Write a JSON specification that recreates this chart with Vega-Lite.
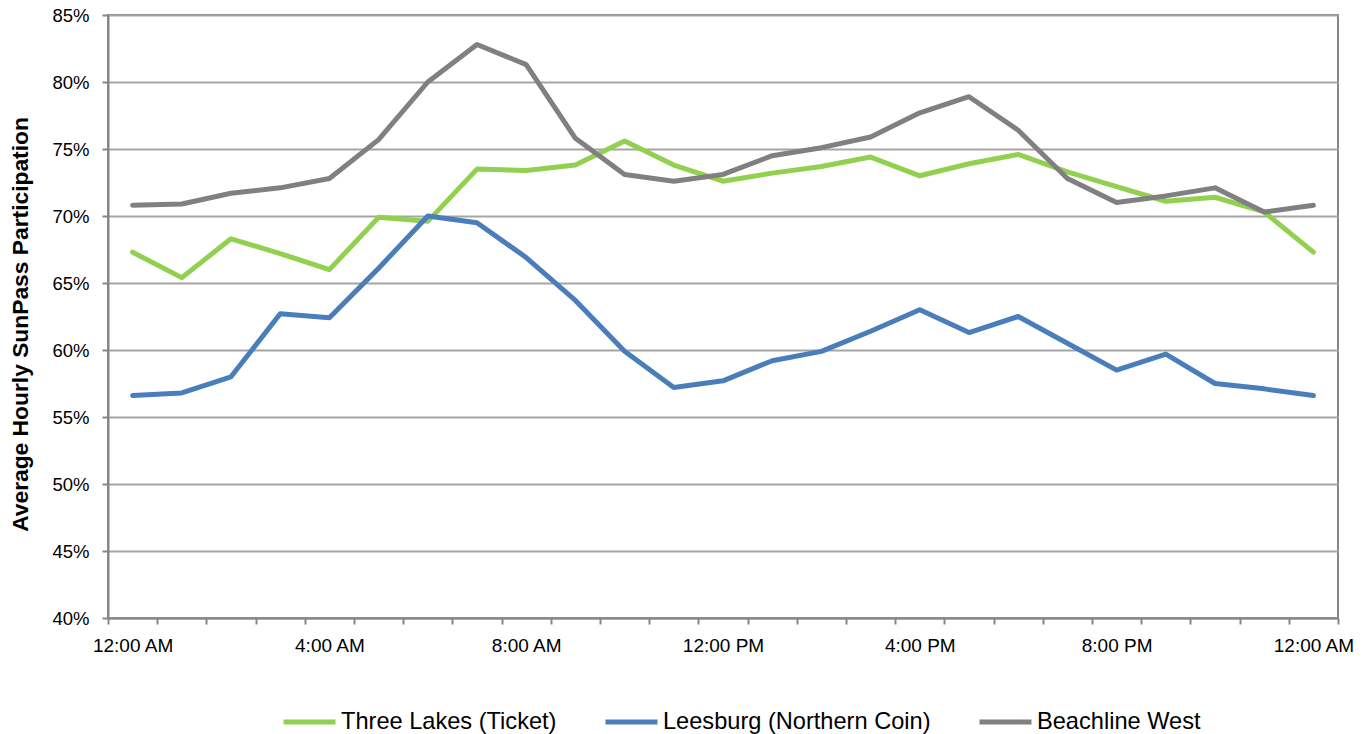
{
  "$schema": "https://vega.github.io/schema/vega-lite/v6.json",
  "width": 1230,
  "height": 603,
  "autosize": {"type": "none"},
  "padding": {"left": 108, "top": 15, "right": 28, "bottom": 116},
  "background": "white",
  "config": {
    "view": {"stroke": "#868686", "strokeWidth": 2},
    "font": "Liberation Sans"
  },
  "data": {
    "values": [
      {"hour": 0, "series": "Three Lakes (Ticket)", "value": 67.3},
      {"hour": 1, "series": "Three Lakes (Ticket)", "value": 65.4},
      {"hour": 2, "series": "Three Lakes (Ticket)", "value": 68.3},
      {"hour": 3, "series": "Three Lakes (Ticket)", "value": 67.2},
      {"hour": 4, "series": "Three Lakes (Ticket)", "value": 66.0},
      {"hour": 5, "series": "Three Lakes (Ticket)", "value": 69.9},
      {"hour": 6, "series": "Three Lakes (Ticket)", "value": 69.6},
      {"hour": 7, "series": "Three Lakes (Ticket)", "value": 73.5},
      {"hour": 8, "series": "Three Lakes (Ticket)", "value": 73.4},
      {"hour": 9, "series": "Three Lakes (Ticket)", "value": 73.8},
      {"hour": 10, "series": "Three Lakes (Ticket)", "value": 75.6},
      {"hour": 11, "series": "Three Lakes (Ticket)", "value": 73.8},
      {"hour": 12, "series": "Three Lakes (Ticket)", "value": 72.6},
      {"hour": 13, "series": "Three Lakes (Ticket)", "value": 73.2},
      {"hour": 14, "series": "Three Lakes (Ticket)", "value": 73.7},
      {"hour": 15, "series": "Three Lakes (Ticket)", "value": 74.4},
      {"hour": 16, "series": "Three Lakes (Ticket)", "value": 73.0},
      {"hour": 17, "series": "Three Lakes (Ticket)", "value": 73.9},
      {"hour": 18, "series": "Three Lakes (Ticket)", "value": 74.6},
      {"hour": 19, "series": "Three Lakes (Ticket)", "value": 73.3},
      {"hour": 20, "series": "Three Lakes (Ticket)", "value": 72.2},
      {"hour": 21, "series": "Three Lakes (Ticket)", "value": 71.1},
      {"hour": 22, "series": "Three Lakes (Ticket)", "value": 71.4},
      {"hour": 23, "series": "Three Lakes (Ticket)", "value": 70.3},
      {"hour": 24, "series": "Three Lakes (Ticket)", "value": 67.3},
      {"hour": 0, "series": "Leesburg (Northern Coin)", "value": 56.6},
      {"hour": 1, "series": "Leesburg (Northern Coin)", "value": 56.8},
      {"hour": 2, "series": "Leesburg (Northern Coin)", "value": 58.0},
      {"hour": 3, "series": "Leesburg (Northern Coin)", "value": 62.7},
      {"hour": 4, "series": "Leesburg (Northern Coin)", "value": 62.4},
      {"hour": 5, "series": "Leesburg (Northern Coin)", "value": 66.1},
      {"hour": 6, "series": "Leesburg (Northern Coin)", "value": 70.0},
      {"hour": 7, "series": "Leesburg (Northern Coin)", "value": 69.5},
      {"hour": 8, "series": "Leesburg (Northern Coin)", "value": 66.9},
      {"hour": 9, "series": "Leesburg (Northern Coin)", "value": 63.7},
      {"hour": 10, "series": "Leesburg (Northern Coin)", "value": 59.9},
      {"hour": 11, "series": "Leesburg (Northern Coin)", "value": 57.2},
      {"hour": 12, "series": "Leesburg (Northern Coin)", "value": 57.7},
      {"hour": 13, "series": "Leesburg (Northern Coin)", "value": 59.2},
      {"hour": 14, "series": "Leesburg (Northern Coin)", "value": 59.9},
      {"hour": 15, "series": "Leesburg (Northern Coin)", "value": 61.4},
      {"hour": 16, "series": "Leesburg (Northern Coin)", "value": 63.0},
      {"hour": 17, "series": "Leesburg (Northern Coin)", "value": 61.3},
      {"hour": 18, "series": "Leesburg (Northern Coin)", "value": 62.5},
      {"hour": 19, "series": "Leesburg (Northern Coin)", "value": 60.5},
      {"hour": 20, "series": "Leesburg (Northern Coin)", "value": 58.5},
      {"hour": 21, "series": "Leesburg (Northern Coin)", "value": 59.7},
      {"hour": 22, "series": "Leesburg (Northern Coin)", "value": 57.5},
      {"hour": 23, "series": "Leesburg (Northern Coin)", "value": 57.1},
      {"hour": 24, "series": "Leesburg (Northern Coin)", "value": 56.6},
      {"hour": 0, "series": "Beachline West", "value": 70.8},
      {"hour": 1, "series": "Beachline West", "value": 70.9},
      {"hour": 2, "series": "Beachline West", "value": 71.7},
      {"hour": 3, "series": "Beachline West", "value": 72.1},
      {"hour": 4, "series": "Beachline West", "value": 72.8},
      {"hour": 5, "series": "Beachline West", "value": 75.7},
      {"hour": 6, "series": "Beachline West", "value": 80.0},
      {"hour": 7, "series": "Beachline West", "value": 82.8},
      {"hour": 8, "series": "Beachline West", "value": 81.3},
      {"hour": 9, "series": "Beachline West", "value": 75.8},
      {"hour": 10, "series": "Beachline West", "value": 73.1},
      {"hour": 11, "series": "Beachline West", "value": 72.6},
      {"hour": 12, "series": "Beachline West", "value": 73.1},
      {"hour": 13, "series": "Beachline West", "value": 74.5},
      {"hour": 14, "series": "Beachline West", "value": 75.1},
      {"hour": 15, "series": "Beachline West", "value": 75.9},
      {"hour": 16, "series": "Beachline West", "value": 77.7},
      {"hour": 17, "series": "Beachline West", "value": 78.9},
      {"hour": 18, "series": "Beachline West", "value": 76.4},
      {"hour": 19, "series": "Beachline West", "value": 72.8},
      {"hour": 20, "series": "Beachline West", "value": 71.0},
      {"hour": 21, "series": "Beachline West", "value": 71.5},
      {"hour": 22, "series": "Beachline West", "value": 72.1},
      {"hour": 23, "series": "Beachline West", "value": 70.3},
      {"hour": 24, "series": "Beachline West", "value": 70.8}
    ]
  },
  "encoding": {
    "x": {
      "field": "hour",
      "type": "quantitative",
      "scale": {"domain": [-0.5, 24.5], "nice": false, "zero": false},
      "axis": {
        "values": [-0.5, 0.5, 1.5, 2.5, 3.5, 4.5, 5.5, 6.5, 7.5, 8.5, 9.5, 10.5, 11.5, 12.5, 13.5, 14.5, 15.5, 16.5, 17.5, 18.5, 19.5, 20.5, 21.5, 22.5, 23.5, 24.5],
        "labelExpr": "((datum.value + 0.5) % 4 == 0 && datum.value < 24) ? ['12:00 AM','4:00 AM','8:00 AM','12:00 PM','4:00 PM','8:00 PM','12:00 AM'][(datum.value + 0.5) / 4] : ''",
        "labelOffset": 24.6,
        "labelOverlap": false,
        "labelBound": false,
        "labelFlush": false,
        "labelFontSize": 19,
        "labelColor": "black",
        "labelPadding": 12,
        "grid": false,
        "title": null,
        "domainColor": "#868686",
        "domainWidth": 2,
        "tickColor": "#868686",
        "tickWidth": 2,
        "tickSize": 6
      }
    },
    "y": {
      "field": "value",
      "type": "quantitative",
      "scale": {"domain": [40, 85], "nice": false, "zero": false},
      "axis": {
        "values": [40, 45, 50, 55, 60, 65, 70, 75, 80, 85],
        "labelExpr": "datum.value + '%'",
        "labelFontSize": 18.5,
        "labelColor": "black",
        "labelPadding": 13,
        "title": "Average Hourly SunPass Participation",
        "titleFontSize": 22.8,
        "titleFontWeight": "bold",
        "titleColor": "black",
        "titlePadding": 19,
        "titleY": 309,
        "grid": true,
        "gridColor": "#a5a5a5",
        "gridWidth": 2,
        "domainColor": "#868686",
        "domainWidth": 2,
        "tickColor": "#868686",
        "tickWidth": 2,
        "tickSize": 6
      }
    },
    "color": {
      "field": "series",
      "type": "nominal",
      "scale": {
        "domain": ["Three Lakes (Ticket)", "Leesburg (Northern Coin)", "Beachline West"],
        "range": ["#92D050", "#4A7EBB", "#808080"]
      },
      "legend": {
        "orient": "none",
        "legendX": 173,
        "legendY": 678,
        "direction": "horizontal",
        "title": null,
        "symbolType": "stroke",
        "symbolSize": 2700,
        "symbolStrokeWidth": 5,
        "labelFontSize": 23.6,
        "labelColor": "black",
        "labelLimit": 500,
        "labelOffset": 3,
        "columnPadding": 38,
        "encode": {
          "symbols": {
            "update": {
              "stroke": {"scale": "color", "field": "value"},
              "strokeWidth": {"value": 5},
              "opacity": {"value": 1}
            }
          }
        }
      }
    }
  },
  "layer": [
    {
      "transform": [{"filter": "datum.series === 'Three Lakes (Ticket)'"}],
      "mark": {"type": "line", "strokeWidth": 5, "strokeCap": "round", "strokeJoin": "round"}
    },
    {
      "transform": [{"filter": "datum.series === 'Leesburg (Northern Coin)'"}],
      "mark": {"type": "line", "strokeWidth": 5, "strokeCap": "round", "strokeJoin": "round"}
    },
    {
      "transform": [{"filter": "datum.series === 'Beachline West'"}],
      "mark": {"type": "line", "strokeWidth": 5, "strokeCap": "round", "strokeJoin": "round"}
    }
  ]
}
